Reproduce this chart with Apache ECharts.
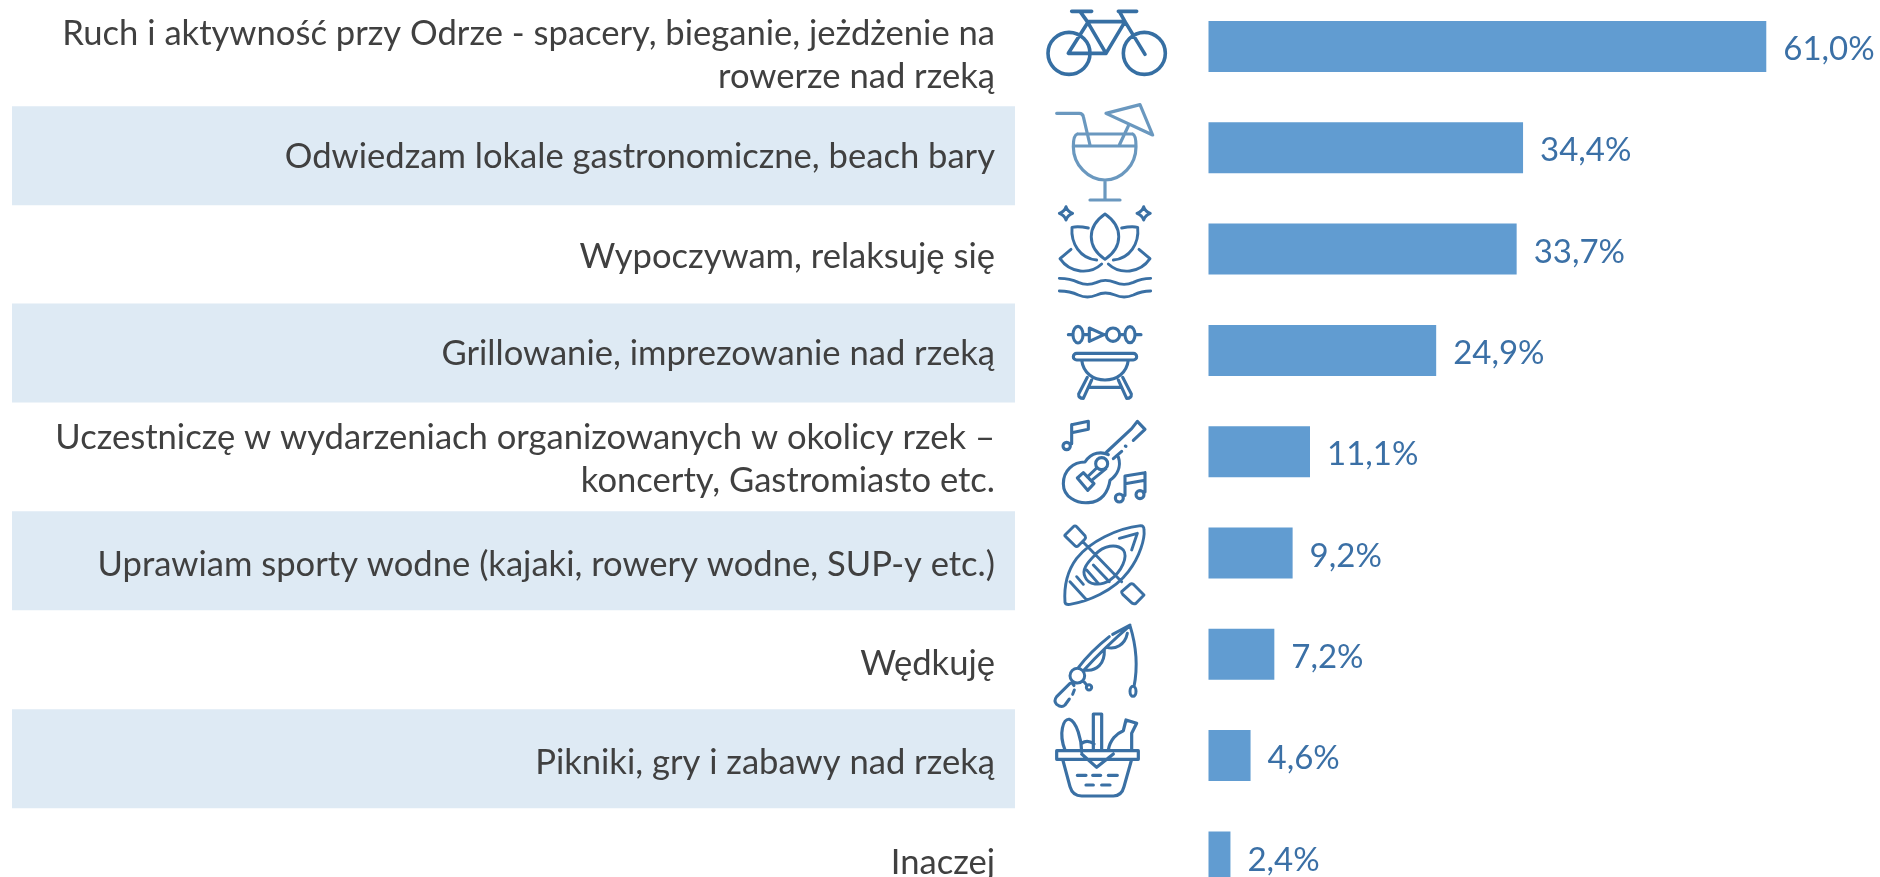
<!DOCTYPE html>
<html><head><meta charset="utf-8">
<style>html,body{margin:0;padding:0;background:#fff;overflow:hidden}#c{width:1880px;height:877px}</style>
<script src="https://cdn.jsdelivr.net/npm/echarts@6/dist/echarts.min.js"></script>
</head><body><div id="c"></div>
<script>
const categories = [
  'Ruch i aktywność przy Odrze - spacery, bieganie, jeżdżenie na\nrowerze nad rzeką',
  'Odwiedzam lokale gastronomiczne, beach bary',
  'Wypoczywam, relaksuję się',
  'Grillowanie, imprezowanie nad rzeką',
  'Uczestniczę w wydarzeniach organizowanych w okolicy rzek –\nkoncerty, Gastromiasto etc.',
  'Uprawiam sporty wodne (kajaki, rowery wodne, SUP-y etc.)',
  'Wędkuję',
  'Pikniki, gry i zabawy nad rzeką',
  'Inaczej'
];
const values = [61.0, 34.4, 33.7, 24.9, 11.1, 9.2, 7.2, 4.6, 2.4];
const stripes = [0, 1, 0, 1, 0, 1, 0, 1, 0];

const FONT = 'Lato, "Open Sans", sans-serif';
const TEXT = '#404040', BLUE = '#3B70A6', BAR = '#619CD1', STRIPE = '#DEEAF4';
const BAR_LEFT = 1208.5, PX_PER = 9.144, BAR_TOP = -4.15, BAND = 101.3;
// The source's rows are not perfectly even: small per-row layout corrections, in px.
const labelNudge  = [0, 1, 0, -4, 1, 6, 4, 2, 1];
const stripeNudge = [0, 0, 0, -4.5, 0, 1.5, 0, -2, 0];

const c = (x,y,r) => `M${x-r} ${y}a${r} ${r} 0 1 0 ${2*r} 0a${r} ${r} 0 1 0 ${-2*r} 0Z`;
const e = (x,y,a,b) => `M${x-a} ${y}a${a} ${b} 0 1 0 ${2*a} 0a${a} ${b} 0 1 0 ${-2*a} 0Z`;
const star = (x,y) => `M${x} ${y-20}Q${x+5} ${y-5} ${x+20} ${y}Q${x+5} ${y+5} ${x} ${y+20}Q${x-5} ${y+5} ${x-20} ${y}Q${x-5} ${y-5} ${x} ${y-20}Z`;
const wave = y => `M178 ${y}Q210 ${y} 235 ${y+12}Q262 ${y+24} 290 ${y+12}Q315 ${y} 345 ${y+12}Q372 ${y+24} 400 ${y+12}Q425 ${y} 452 ${y}`;

// Icon outlines, one per row: [origin x, origin y, stroke colour, stroke width, path]
const icons = [
  [1000,0,'#366FA3',3.6, c(207,160,63)+c(433,160,63)+'M215 34H275M355 34H410M240 34L262 65H375M262 70L205 160H318L375 65M262 65L318 160M358 34L375 65L435 163'],
  [1000,0,'#6A98BF',3.2, 'M170 340H238Q248 340 250 350L270 435M232 402H398M232 402Q220 405 220 440C220 495 265 540 315 540C365 540 408 495 408 440Q408 405 398 402M222 438H405M315 540V600M270 600H360M318 340L420 314L458 405ZM385 378L358 435'],
  [1000,0,'#3A70A4',2.9, star(198,640)+star(431,640)+'M315 642C260 680 260 740 315 778C370 740 370 680 315 642ZM265 684Q235 678 216 682C212 730 240 775 290 780M365 684Q395 678 413 682C418 730 390 775 340 780M213 748L180 776C210 820 270 825 305 792M417 748L450 776C420 820 360 825 325 792'+wave(835)+wave(873)],
  [1000,300,'#3A70A4',3.1, 'M205 104H218M250 104H268M312 104H319M359 104H375M405 104H423'+e(234,104,15,25)+'M268 84L312 104L268 124Z'+c(339,104,20)+e(390,104,15,24)+'M230 160H400A10 10 0 0 1 400 180H230A10 10 0 0 1 230 160ZM245 180C250 220 280 240 315 240C350 240 380 220 385 180M262 232L236 282Q235 295 250 295L275 240M368 232L394 282Q395 295 380 295L355 240M272 262H358'],
  [1050,412,'#3A70A4',3.1, 'M65 38L115 28V52L65 62ZM65 38V95'+c(50,102,11)+'M175 128C155 118 125 120 105 150C70 150 40 175 40 215C40 255 80 275 115 272C155 270 175 240 180 205C200 190 215 165 205 135M170 120L245 50M245 50L262 28L285 52L250 85M190 140L215 118'+c(155,155,18)+'M82 198L100 182L132 215L113 235ZM112 195L140 168M125 205L168 170M226 102L228 103M225 192L285 182V205L225 215ZM225 192V250M285 182V240'+c(208,258,12)+c(270,248,12)],
  [1050,515,'#3A70A4',2.9, 'M272 32C200 40 120 80 80 130C50 170 42 220 45 262Q47 270 60 268C110 260 190 230 235 170C270 125 285 70 282 45Q282 32 272 32ZM135 120C160 90 200 85 220 105C235 125 215 170 180 195C150 215 115 210 105 185C95 165 110 145 135 120ZM100 82L215 200M45 60L70 35Q75 30 80 35L105 62Q108 68 105 72L85 92Q80 97 75 92L47 65Q43 62 45 60ZM215 230L240 208Q245 205 250 208L282 240L258 265Q252 268 247 265L218 238Q214 234 215 230ZM208 70L262 55L245 105M130 150L178 200M110 165L145 205M60 200L110 255M80 185L100 208'],
  [1050,615,'#3A70A4',3, 'M85 158C110 125 140 95 178 65M188 58L240 30M102 165C125 140 190 75 240 32M105 165C140 170 165 145 163 105M170 97C195 105 225 90 232 55M240 32C258 90 265 150 252 215'+e(249,229,9,15)+c(82,182,22)+'M100 198L112 212'+c(117,217,8)+'M60 205L20 245Q10 258 20 268Q35 280 45 270L58 252M68 238L73 225M65 203L72 212'],
  [1000,600,'#3A70A4',3.2, 'M170 452H415V478H170ZM188 478L210 560Q218 588 245 588H340Q365 588 372 560L395 478M245 462L290 502L340 462M280 450V342H305V450M195 450C175 400 190 355 208 358C230 365 245 420 245 455M245 430Q262 418 282 432M325 450C330 420 350 400 370 392L378 360L410 370L395 400V450M232 526H258M278 526H302M325 526H352M258 555H280M305 555H330']
];

const chart = echarts.init(document.getElementById('c'), null, {renderer:'canvas'});
chart.setOption({
  animation:false,
  backgroundColor:'#fff',
  grid:[
    {left:BAR_LEFT, top:BAR_TOP, width:70*PX_PER, height:9*BAND, outerBoundsMode:'none'},
    {left:12, top:4.5, width:1003, height:907.6, outerBoundsMode:'none'}
  ],
  xAxis:[
    {gridIndex:0, type:'value', min:0, max:70, show:false},
    {gridIndex:1, type:'value', min:0, max:1, show:false}
  ],
  yAxis:[
    {gridIndex:0, type:'category', inverse:true, data:categories, axisLine:{show:false}, axisTick:{show:false}, axisLabel:{show:false}, splitLine:{show:false}},
    {gridIndex:1, type:'category', inverse:true, data:categories, axisLine:{show:false}, axisTick:{show:false}, axisLabel:{show:false}, splitLine:{show:false}}
  ],
  series:[
    {type:'custom', xAxisIndex:1, yAxisIndex:1, coordinateSystem:'cartesian2d', clip:false, z:1, silent:true,
     data:stripes.map((s,i)=>[s,i]),
     renderItem:(params,api)=>{
       const i = api.value(1), s = api.value(0);
       const p0 = api.coord([0,i]), p1 = api.coord([1,i]);
       const children = [];
       if (s) children.push({type:'rect', shape:{x:p0[0], y:p0[1]-49.5+stripeNudge[i], width:p1[0]-p0[0], height:99}, style:{fill:STRIPE}});
       children.push({type:'text', x:p1[0]-20, y:p0[1]+labelNudge[i],
         style:{text:categories[i], align:'right', verticalAlign:'middle', fill:TEXT, fontFamily:FONT, fontSize:34.6, lineHeight:43}});
       return {type:'group', children};
     }},
    {type:'bar', xAxisIndex:0, yAxisIndex:0, data:values, barWidth:51, itemStyle:{color:BAR}, z:3,
     label:{show:true, position:'right', distance:17, offset:[0,3], color:BLUE, fontFamily:FONT, fontSize:33,
            formatter:p => p.value.toFixed(1).replace('.',',')+'%'}},
    {type:'custom', xAxisIndex:0, yAxisIndex:0, coordinateSystem:'cartesian2d', clip:false, z:4, silent:true,
     data:icons.map((_,i)=>[0,i]),
     renderItem:(params,api)=>{
       const i = api.value(1);
       const pt = api.coord([0,i]);
       const ic = icons[i];
       const refY = BAR_TOP + BAND*(i+.5);
       const gx = pt[0] + (ic[0]-BAR_LEFT), gy = pt[1] + (ic[1]-refY);
       return {type:'path', shape:{pathData:'M0 0M1200 1200'+ic[4], layout:'cover', x:gx, y:gy, width:400, height:400},
               style:{fill:null, stroke:ic[2], lineWidth:ic[3], lineCap:'round', lineJoin:'round'}};
     }}
  ]
});
</script></body></html>
